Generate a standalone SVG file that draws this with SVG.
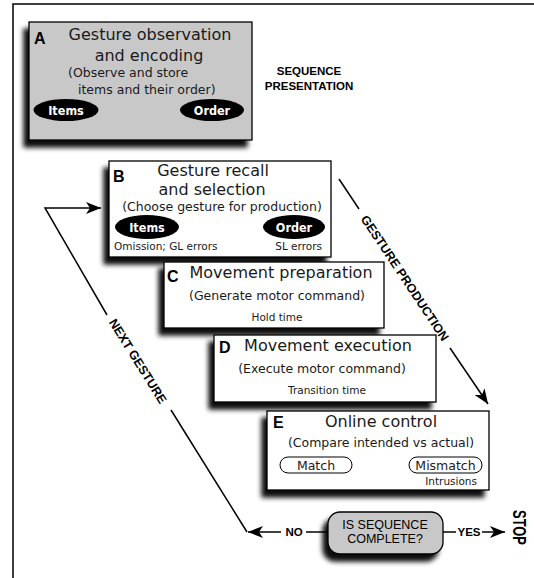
<svg xmlns="http://www.w3.org/2000/svg" width="534" height="578" viewBox="0 0 534 578">
<defs>
<filter id="sh" x="-20%" y="-20%" width="140%" height="150%">
<feDropShadow dx="-5" dy="7" stdDeviation="2.8" flood-color="#000" flood-opacity="0.95"/>
</filter>
<marker id="ah" markerUnits="userSpaceOnUse" markerWidth="16" markerHeight="12" refX="15" refY="6" orient="auto">
<path d="M0,0 L15,6 L0,12 L4,6 Z" fill="#000"/>
</marker>
<style>
.box{fill:#fff;stroke:#000;stroke-width:1.3;filter:url(#sh)}
.gray{fill:#c8c8c8}
.t{font-family:"DejaVu Sans",sans-serif;fill:#1a1a1a}
.h{font-size:16px}
.s{font-size:12.5px}
.xs{font-size:10.5px}
.let{font-family:"Liberation Sans",Arial,sans-serif;font-weight:bold;font-size:16px}
.ov{fill:#000}
.ovt{font-family:"DejaVu Sans Condensed","DejaVu Sans",sans-serif;font-weight:bold;font-size:12.5px;fill:#fff;text-anchor:middle}
.b{font-family:"Liberation Sans",Arial,sans-serif;font-weight:bold;font-size:11.5px;fill:#000}
.d{font-family:"Liberation Sans",Arial,sans-serif;font-weight:bold;font-size:12.5px;fill:#000}
.stop{font-family:"Liberation Sans",Arial,sans-serif;font-weight:bold;font-size:19px;fill:#000}
.pill{fill:#fff;stroke:#000;stroke-width:1}
.c{stroke:#000;stroke-width:1.5;fill:none}
.m{text-anchor:middle}
</style>
</defs>
<rect x="13" y="4" width="540" height="600" fill="none" stroke="#000" stroke-width="1.5"/>

<g id="A">
<rect class="box gray" x="29" y="22" width="223" height="118"/>
<text class="let" x="34" y="44">A</text>
<text class="t h m" x="150" y="40">Gesture observation</text>
<text class="t h m" x="149" y="61">and encoding</text>
<text class="t s" x="68" y="77">(Observe and store</text>
<text class="t s" x="78" y="94">items and their order)</text>
<ellipse class="ov" cx="66" cy="110" rx="32.5" ry="11"/>
<text class="ovt" x="66" y="115">Items</text>
<ellipse class="ov" cx="212" cy="110" rx="32" ry="11"/>
<text class="ovt" x="212" y="115">Order</text>
</g>

<g id="seqpres">
<text class="b m" x="309" y="75">SEQUENCE</text>
<text class="b m" x="309" y="90">PRESENTATION</text>
</g>

<g id="B">
<rect class="box" x="109" y="161" width="222" height="96"/>
<text class="let" x="113" y="182">B</text>
<text class="t h m" x="213" y="175.5">Gesture recall</text>
<text class="t h m" x="212" y="194.5">and selection</text>
<text class="t s m" x="222" y="210.5">(Choose gesture for production)</text>
<ellipse class="ov" cx="147" cy="227" rx="32" ry="12"/>
<text class="ovt" x="147" y="232">Items</text>
<ellipse class="ov" cx="294" cy="227" rx="31" ry="12"/>
<text class="ovt" x="294" y="232">Order</text>
<text class="t xs" x="114" y="250">Omission; GL errors</text>
<text class="t xs" x="322" y="250" text-anchor="end">SL errors</text>
</g>

<g id="C">
<rect class="box" x="164" y="262" width="220" height="66"/>
<text class="let" x="167" y="282">C</text>
<text class="t h m" x="281" y="278">Movement preparation</text>
<text class="t s m" x="277" y="300">(Generate motor command)</text>
<text class="t xs m" x="277" y="321">Hold time</text>
</g>

<g id="D">
<rect class="box" x="214" y="335" width="222" height="67"/>
<text class="let" x="219" y="353">D</text>
<text class="t h m" x="328" y="351">Movement execution</text>
<text class="t s m" x="322" y="373">(Execute motor command)</text>
<text class="t xs m" x="327" y="394">Transition time</text>
</g>

<g id="E">
<rect class="box" x="267" y="411" width="222" height="79"/>
<text class="let" x="273" y="428">E</text>
<text class="t h m" x="381" y="427">Online control</text>
<text class="t s m" x="381" y="447">(Compare intended vs actual)</text>
<rect class="pill" x="280" y="457" width="72" height="16" rx="8"/>
<text class="t s m" x="316" y="469.5">Match</text>
<rect class="pill" x="409" y="457" width="73" height="16" rx="8"/>
<text class="t s m" x="445.5" y="469.5">Mismatch</text>
<text class="t xs" x="477" y="484.5" text-anchor="end">Intrusions</text>
</g>

<g id="decision">
<rect class="box gray" x="328" y="512" width="115" height="42" rx="12"/>
<text class="m" x="385" y="529" font-family="Liberation Sans, Arial, sans-serif" font-size="12.5">IS SEQUENCE</text>
<text class="m" x="385" y="543" font-family="Liberation Sans, Arial, sans-serif" font-size="12.5">COMPLETE?</text>
</g>

<g id="stop">
<text class="stop m" x="0" y="0" transform="translate(513,527.5) rotate(90) scale(0.68,1)">STOP</text>
</g>

<g id="connectors">
<path class="c" d="M328,532 H306"/>
<path class="c" d="M281,532 H248" marker-end="url(#ah)"/>
<path class="c" d="M247,532 L171,410"/>
<path class="c" d="M107,315 L45,208 H101" marker-end="url(#ah)"/>
<path class="c" d="M339,179 L359,209"/>
<path class="c" d="M450,348 L488,404" marker-end="url(#ah)"/>
<path class="c" d="M443,532 H456"/>
<path class="c" d="M482,532 H505" marker-end="url(#ah)"/>
<text class="b" x="294" y="536" text-anchor="middle">NO</text>
<text class="b" x="469" y="536" text-anchor="middle">YES</text>
<text class="d" text-anchor="middle" transform="translate(138,361) rotate(58) translate(0,4.5)">NEXT GESTURE</text>
<text class="d" text-anchor="middle" transform="translate(405,278) rotate(56.4) translate(0,4.5)">GESTURE PRODUCTION</text>
</g>
</svg>
